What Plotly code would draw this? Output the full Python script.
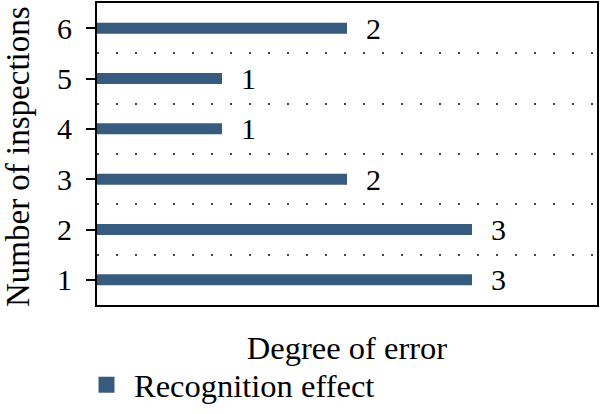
import plotly.graph_objects as go

categories = [1, 2, 3, 4, 5, 6]
values = [3, 3, 2, 1, 1, 2]
series_name = "Recognition effect"
x_title = "Degree of error"
y_title = "Number of inspections"

bar_color = "#375a7f"
font_family = "Liberation Serif"
fs_num = 30
fs_title = 32.5

fig = go.Figure()
fig.add_trace(go.Bar(
    x=values, y=categories, orientation="h",
    marker=dict(color=bar_color, line=dict(width=0)),
    width=0.22, showlegend=False, hoverinfo="skip",
))
# legend entry
fig.add_trace(go.Scatter(
    x=[None], y=[None], mode="markers", name=series_name,
    marker=dict(symbol="square", size=16, color=bar_color),
    showlegend=True,
))
# grid helper axis at half positions
fig.add_trace(go.Scatter(x=[None], y=[None], yaxis="y2", showlegend=False))

for c, v in zip(categories, values):
    fig.add_annotation(x=v, y=c, text=str(v), showarrow=False,
                       xanchor="left", yanchor="middle", xshift=17,
                       font=dict(family=font_family, size=fs_num, color="black"))

# y-axis title
fig.add_annotation(text=y_title, xref="paper", yref="paper",
                   x=-0.158, y=0.49, xanchor="center", yanchor="middle",
                   textangle=-90, showarrow=False,
                   font=dict(family=font_family, size=33, color="black"))

half_ticks = [c + 0.5 for c in categories[:-1]]

fig.update_layout(
    width=600, height=414,
    margin=dict(l=97, r=2, t=1, b=109),
    paper_bgcolor="white", plot_bgcolor="white",
    font=dict(family=font_family, size=fs_num, color="black"),
    bargap=0.78,
    xaxis=dict(range=[0, 4], showticklabels=False, ticks="", showgrid=False,
               zeroline=False, showline=True, linecolor="black", linewidth=2,
               mirror=True,
               title=dict(text=x_title, standoff=30,
                          font=dict(family=font_family, size=fs_title))),
    yaxis=dict(range=[0.5, 6.5], tickmode="array", tickvals=categories,
               ticktext=[str(c) for c in categories],
               ticks="outside", ticklen=9, tickwidth=1.5, tickcolor="black",
               ticklabelstandoff=8,
               tickfont=dict(family=font_family, size=fs_num),
               showgrid=False, zeroline=False, showline=True,
               linecolor="black", linewidth=2, mirror=True),
    yaxis2=dict(range=[0.5, 6.5], overlaying="y", tickmode="array",
                tickvals=half_ticks, showticklabels=False, ticks="",
                showgrid=True, gridcolor="#444444", gridwidth=1.6,
                griddash="1.6px,17.4px", zeroline=False, showline=False,
                side="right"),
    legend=dict(orientation="h", x=-0.036, xanchor="left", y=-0.358,
                yanchor="bottom", itemwidth=45,
                font=dict(family=font_family, size=fs_title)),
)

fig.write_html(
    "out.html",
    config={"displayModeBar": False},
    post_script="document.body.style.margin='0';document.body.style.overflow='hidden';",
)
